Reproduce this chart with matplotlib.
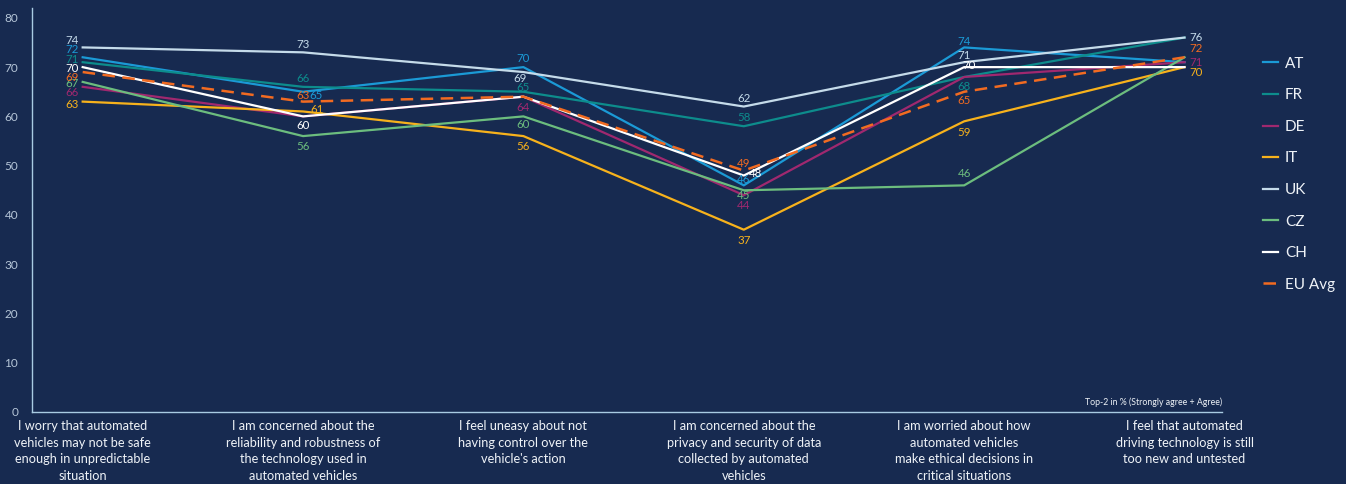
"""
Automated vehicle concerns by country: line chart on dark navy background.
"""

import matplotlib

matplotlib.use("Agg")
import matplotlib.pyplot as plt  # noqa: E402
import numpy as np

statements = [
    "I worry that automated\nvehicles may not be safe\nenough in unpredictable\nsituation",
    "I am concerned about the\nreliability and robustness of\nthe technology used in\nautomated vehicles",
    "I feel uneasy about not\nhaving control over the\nvehicle's action",
    "I am concerned about the\nprivacy and security of data\ncollected by automated\nvehicles",
    "I am worried about how\nautomated vehicles\nmake ethical decisions in\ncritical situations",
    "I feel that automated\ndriving technology is still\ntoo new and untested",
]

at_vals = [72, 65, 70, 46, 74, 71]
fr_vals = [71, 66, 65, 58, 68, 76]
de_vals = [66, 60, 64, 44, 68, 71]
it_vals = [63, 61, 56, 37, 59, 70]
uk_vals = [74, 73, 69, 62, 71, 76]
cz_vals = [67, 56, 60, 45, 46, 72]
ch_vals = [70, 60, 64, 48, 70, 70]
eu_vals = [69, 63, 64, 49, 65, 72]

y_ticks = [0, 10, 20, 30, 40, 50, 60, 70, 80]

BG = "#172a50"
AXIS = "#a9cbe3"
TICK_TXT = "#b6c6d8"

series = [
    ("AT", at_vals, "#1b9ad6", "-"),
    ("FR", fr_vals, "#0d8c8c", "-"),
    ("DE", de_vals, "#a0286f", "-"),
    ("IT", it_vals, "#f7b21c", "-"),
    ("UK", uk_vals, "#c5dbea", "-"),
    ("CZ", cz_vals, "#6cbd7e", "-"),
    ("CH", ch_vals, "#ffffff", "-"),
    ("EU Avg", eu_vals, "#f26b21", "--"),
]

# value labels: (series, point index) -> (dx px, dy px, ha)
label_pos = {
    ("UK", 0): (-4, 7, "right"), ("AT", 0): (-4, 8, "right"),
    ("FR", 0): (-4, 3, "right"), ("CH", 0): (-4, -1, "right"),
    ("EU Avg", 0): (-4, -5, "right"), ("CZ", 0): (-4, -2, "right"),
    ("DE", 0): (-4, -6, "right"), ("IT", 0): (-4, -3, "right"),
    ("UK", 1): (0, 8, "center"), ("FR", 1): (0, 8, "center"),
    ("AT", 1): (13, -4, "center"), ("EU Avg", 1): (0, 6, "center"),
    ("IT", 1): (14, 2, "center"), ("CH", 1): (0, -9, "center"),
    ("CZ", 1): (0, -10, "center"),
    ("AT", 2): (0, 9, "center"), ("UK", 2): (-3, -6, "center"),
    ("FR", 2): (0, 4, "center"), ("DE", 2): (0, -11, "center"),
    ("CZ", 2): (0, -8, "center"), ("IT", 2): (0, -10, "center"),
    ("UK", 3): (0, 8, "center"), ("FR", 3): (0, 9, "center"),
    ("EU Avg", 3): (0, 7, "center"), ("CH", 3): (12, 2, "center"),
    ("AT", 3): (0, 6, "center"), ("CZ", 3): (0, -5, "center"),
    ("DE", 3): (0, -10, "center"), ("IT", 3): (0, -11, "center"),
    ("AT", 4): (0, 6, "center"), ("UK", 4): (0, 7, "center"),
    ("CH", 4): (5, 2, "center"), ("FR", 4): (0, -10, "center"),
    ("EU Avg", 4): (0, -9, "center"), ("IT", 4): (0, -11, "center"),
    ("CZ", 4): (0, 12, "center"),
    ("UK", 5): (5, 0, "left"), ("EU Avg", 5): (5, 9, "left"),
    ("DE", 5): (5, 0, "left"), ("IT", 5): (5, -5, "left"),
}

plt.rcParams["font.family"] = ["Lato", "DejaVu Sans"]

fig = plt.figure(figsize=(13.46, 4.84), dpi=100, facecolor=BG)
ax = fig.add_axes([32 / 1346, 72 / 484, 1190 / 1346, 404 / 484], facecolor=BG)

x = np.arange(len(statements))
for name, vals, color, ls in series:
    if ls == "--":
        ax.plot(x, vals, color=color, lw=1.8, ls=(0, (5, 3)), label=name, zorder=4)
    else:
        ax.plot(x, vals, color=color, lw=1.6, label=name, zorder=3)
    for i, v in enumerate(vals):
        if (name, i) not in label_pos:
            continue
        dx, dy, ha = label_pos[(name, i)]
        ax.annotate(
            f"{v}", (i, v), xytext=(dx, dy), textcoords="offset pixels",
            ha=ha, va="center", fontsize=8.3, color=color, zorder=5,
        )

ax.set_xlim(-0.23, 5.17)
ax.set_ylim(0, 82)
ax.set_yticks(y_ticks)
ax.set_yticklabels([str(t) for t in y_ticks])
ax.set_xticks(x)
ax.set_xticklabels(statements, fontsize=9.2, color="#eef2f7", linespacing=1.45)
ax.tick_params(axis="y", length=0, pad=10, labelsize=8.5, labelcolor=TICK_TXT)
ax.tick_params(axis="x", length=0, pad=6)
for side in ("top", "right"):
    ax.spines[side].set_visible(False)
for side in ("left", "bottom"):
    ax.spines[side].set_color(AXIS)
    ax.spines[side].set_linewidth(1.0)

ax.text(1.0, 0.012, "Top-2 in % (Strongly agree + Agree)", transform=ax.transAxes,
        ha="right", va="bottom", fontsize=6.3, color="#eef2f7")

leg = fig.legend(
    loc="upper left", bbox_to_anchor=(1249 / 1346, 1 - 43 / 484), frameon=False,
    fontsize=11, handlelength=1.0, handletextpad=0.45, labelspacing=1.15,
    labelcolor="#eef2f7",
)

fig.savefig("out.png", dpi=100, facecolor=BG)
